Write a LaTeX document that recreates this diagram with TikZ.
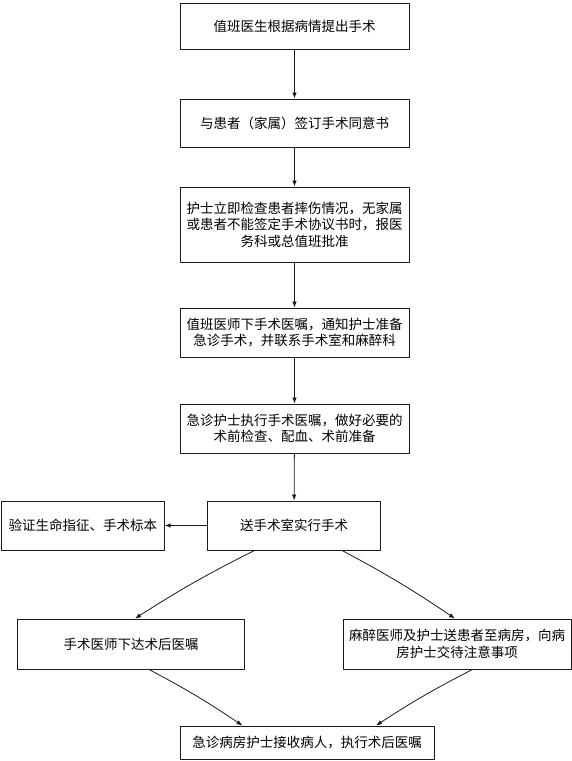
\documentclass[tikz,border=0pt]{standalone}
\usepackage{fontspec}
\newfontfamily\cjk{Noto Sans CJK SC}
\usetikzlibrary{arrows.meta}
\definecolor{flowline}{HTML}{1A1A1A}

\begin{document}
\begin{tikzpicture}[
  x=1pt,
  y=-1pt,
  line join=round,
  box/.style={draw=flowline,line width=0.9pt,inner sep=1pt,align=center,
    font=\cjk\fontsize{13.5}{16.5}\selectfont},
  arrow/.style={draw=flowline,line width=0.8pt,-{Latex[length=6pt,width=4.5pt]}}
]
  % Match the original artwork frame.
  \useasboundingbox (0,0) rectangle (572,761);

  % Main column of steps.
  \node[box,minimum width=229pt,minimum height=46pt] (doctorPropose) at (294.5,26)
    {值班医生根据病情提出手术};
  \node[box,minimum width=229pt,minimum height=48pt] (signConsent) at (294.5,123)
    {与患者（家属）签订手术同意书};
  \node[box,minimum width=229pt,minimum height=75pt] (nurseCheck) at (294.5,224.5)
    {护士立即检查患者摔伤情况，无家属\\或患者不能签定手术协议书时，报医\\务科或总值班批准};
  \node[box,minimum width=229pt,minimum height=49pt] (surgeryOrder) at (294.5,332.5)
    {值班医师下手术医嘱，通知护士准备\\急诊手术，并联系手术室和麻醉科};
  \node[box,minimum width=229pt,minimum height=49pt] (preOp) at (294.5,428.5)
    {急诊护士执行手术医嘱，做好必要的\\术前检查、配血、术前准备};
  \node[box,minimum width=172.5pt,minimum height=49pt] (operate) at (294,525.5)
    {送手术室实行手术};

  % Side step and the two branches after the operation.
  \node[box,minimum width=162.5pt,minimum height=49pt] (verifySigns) at (83,525.5)
    {验证生命指征、手术标本};
  \node[box,minimum width=227.5pt,minimum height=50pt] (postOrder) at (131,644)
    {手术医师下达术后医嘱};
  \node[box,minimum width=228pt,minimum height=50pt] (handOver) at (457,644)
    {麻醉医师及护士送患者至病房，向病\\房护士交待注意事项};
  \node[box,minimum width=254pt,minimum height=33pt] (wardReceive) at (307,742.5)
    {急诊病房护士接收病人，执行术后医嘱};

  % Vertical flow.
  \draw[arrow] (doctorPropose) -- (signConsent);
  \draw[arrow] (signConsent) -- (nurseCheck);
  \draw[arrow] (nurseCheck) -- (surgeryOrder);
  \draw[arrow] (surgeryOrder) -- (preOp);
  \draw[arrow] (preOp) -- (operate);
  \draw[arrow] (operate) -- (verifySigns);

  % Branching and merging connectors.
  \draw[arrow] ([xshift=-39.5pt]operate.south) to[bend right=3] ([xshift=4pt]postOrder.north);
  \draw[arrow] ([xshift=48pt]operate.south) to[bend left=3] ([xshift=-2pt]handOver.north);
  \draw[arrow] ([xshift=18pt]postOrder.south) to[bend left=3] ([xshift=-64.5pt]wardReceive.north);
  \draw[arrow] ([xshift=15.5pt]handOver.south) to[bend right=3] ([xshift=69pt]wardReceive.north);
\end{tikzpicture}
\end{document}
